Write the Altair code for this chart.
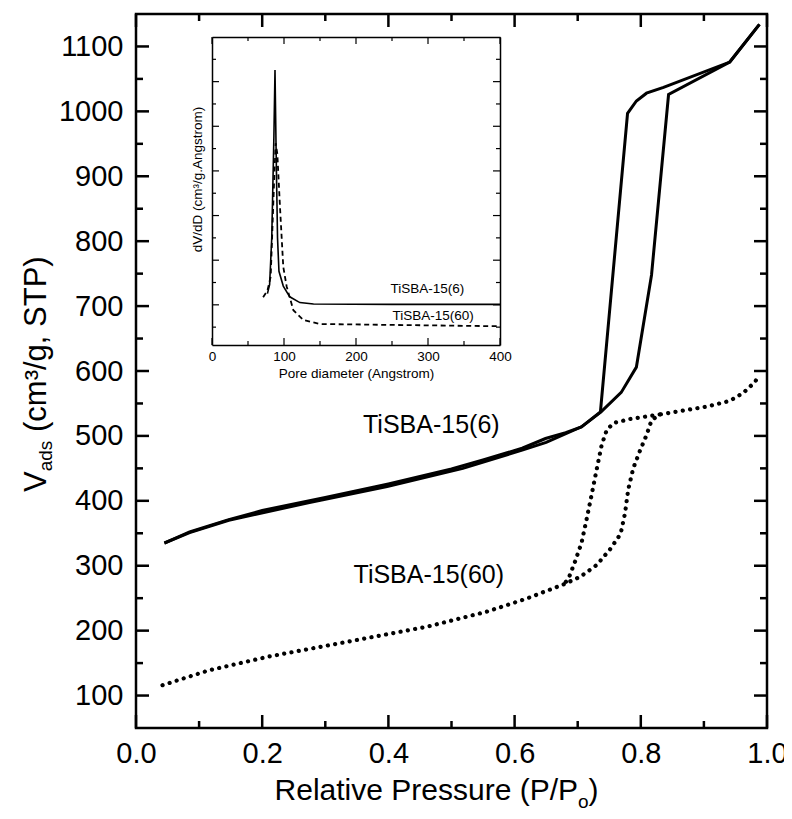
import altair as alt
import pandas as pd

# ---------------- data ----------------
# TiSBA-15(6) isotherm (solid line): adsorption and desorption branches
p6_ads = [0.045, 0.085, 0.147, 0.273, 0.398, 0.518, 0.612, 0.650, 0.706, 0.737, 0.769, 0.793, 0.817, 0.844, 0.941, 0.988]
v6_ads = [335, 351, 370, 397, 422, 450, 478, 490, 514, 537, 567, 606, 748, 1026, 1076, 1134]
p6_des = [0.988, 0.941, 0.836, 0.809, 0.793, 0.779, 0.736, 0.706, 0.681, 0.649, 0.612, 0.550, 0.500, 0.400, 0.300, 0.200, 0.147, 0.085, 0.045]
v6_des = [1134, 1076, 1037, 1028, 1016, 997, 537, 514, 505, 496, 481, 463, 449, 426, 405, 385, 371, 352, 335]

# TiSBA-15(60) isotherm (dotted line)
p60_ads = [0.042, 0.116, 0.210, 0.336, 0.461, 0.555, 0.618, 0.677, 0.704, 0.730, 0.751, 0.768, 0.775, 0.780, 0.788,
           0.799, 0.809, 0.817, 0.830, 0.867, 0.904, 0.941, 0.962, 0.981, 0.988]
v60_ads = [116, 139, 160, 183, 206, 229, 249, 271, 283, 301, 325, 349, 381, 417, 450,
           478, 501, 524, 533, 539, 545, 554, 566, 583, 595]
p60_des = [0.830, 0.783, 0.757, 0.746, 0.738, 0.730, 0.722, 0.714, 0.706, 0.696, 0.685, 0.677]
v60_des = [533, 526, 520, 509, 486, 448, 409, 371, 335, 307, 279, 271]

# inset: pore size distributions (arbitrary units)
d6 = [77, 80, 83, 86, 87.5, 89, 91, 93, 99, 108, 122, 141, 250, 400]
s6 = [1.25, 1.45, 2.5, 4.8, 6.26, 4.5, 2.5, 1.75, 1.42, 1.18, 1.05, 1.02, 1.01, 1.01]
d60 = [71, 77, 81.5, 86, 88.4, 90.7, 94.4, 99, 103.7, 113, 127, 150, 250, 400]
s60 = [1.17, 1.32, 1.63, 3.65, 4.62, 4.39, 3.2, 1.85, 1.41, 0.88, 0.66, 0.57, 0.55, 0.52]

# ticks
x_major_main = [0.0, 0.2, 0.4, 0.6, 0.8, 1.0]
x_minor_main = [0.1, 0.3, 0.5, 0.7, 0.9]
y_major_main = [100, 200, 300, 400, 500, 600, 700, 800, 900, 1000, 1100]
y_minor_main = [150, 250, 350, 450, 550, 650, 750, 850, 950, 1050]
x_major_inset = [0, 100, 200, 300, 400]
x_minor_inset = [50, 150, 250, 350]
y_major_inset = [1, 2, 3, 4, 5, 6]
y_minor_inset = [0.5, 1.5, 2.5, 3.5, 4.5, 5.5, 6.5]

# curve labels
main_label_text = ["TiSBA-15(6)", "TiSBA-15(60)"]
main_label_x = [0.468, 0.464]
main_label_y = [517, 285]
inset_label_text = ["TiSBA-15(6)", "TiSBA-15(60)"]
inset_label_x = [299, 307]
inset_label_y = [1.35, 0.76]

# ---------------- tables ----------------
def branch(p, v, name):
    return pd.DataFrame({"p": p, "v": v, "branch": name, "i": list(range(len(p)))})

df6 = pd.concat([branch(p6_ads, v6_ads, "ads"), branch(p6_des, v6_des, "des")])
df60 = pd.concat([branch(p60_ads, v60_ads, "ads"), branch(p60_des, v60_des, "des")])
dfi6 = pd.DataFrame({"d": d6, "s": s6})
dfi60 = pd.DataFrame({"d": d60, "s": s60})
dflab = pd.DataFrame({"t": main_label_text, "p": main_label_x, "v": main_label_y})
dfilab = pd.DataFrame({"t": inset_label_text, "d": inset_label_x, "s": inset_label_y})
one = pd.DataFrame({"a": [0]})

W, H = 631, 714
FONT = "Liberation Sans, Arial, Helvetica, sans-serif"

xs_main = alt.Scale(domain=[0, 1], nice=False, zero=False)
ys_main = alt.Scale(domain=[50, 1150], nice=False, zero=False)
# inset occupies a sub-rectangle of the plot area (pixel ranges)
IX0, IX1, IY0, IY1 = 76, 364, 331, 23
xs_in = alt.Scale(domain=[0, 400], range=[IX0, IX1], nice=False, zero=False)
ys_in = alt.Scale(domain=[0.1, 7], range=[IY0, IY1], nice=False, zero=False)


# inward tick marks drawn as rules positioned through the scales
def xticks(vals, xs, y0, y1, w):
    return alt.Chart(pd.DataFrame({"tx": vals})).mark_rule(color="black", strokeWidth=w).encode(
        x=alt.X("tx:Q", scale=xs, axis=None), y=alt.value(y0), y2=alt.value(y1))


def yticks(vals, ys, x0, x1, w):
    return alt.Chart(pd.DataFrame({"ty": vals})).mark_rule(color="black", strokeWidth=w).encode(
        y=alt.Y("ty:Q", scale=ys, axis=None), x=alt.value(x0), x2=alt.value(x1))


def frame_axis(orient, offset):
    return alt.Axis(orient=orient, offset=offset, labels=False, title=None, grid=False, ticks=False,
                    domain=True, domainColor="black", domainWidth=1.5)


# ---------------- main plot ----------------
L1 = alt.Chart(df6).mark_line(color="black", strokeWidth=3).encode(
    x=alt.X("p:Q", scale=xs_main,
            axis=alt.Axis(orient="bottom", values=x_major_main, format=".1f", labelFont=FONT, labelFontSize=29,
                          labelColor="black", labelPadding=11, labelFlush=False, labelOverlap=False,
                          ticks=False, tickSize=0, domain=False, grid=False, title=None)),
    y=alt.Y("v:Q", scale=ys_main,
            axis=alt.Axis(orient="left", values=y_major_main, format="d", labelFont=FONT, labelFontSize=29,
                          labelColor="black", labelPadding=13, labelOverlap=False,
                          ticks=False, tickSize=0, domain=False, grid=False, title=None)),
    detail="branch:N", order="i:Q")

L2 = alt.Chart(df60).mark_line(color="black", strokeWidth=4.2, strokeDash=[0.1, 7.3], strokeCap="round").encode(
    x=alt.X("p:Q", scale=xs_main, axis=None),
    y=alt.Y("v:Q", scale=ys_main, axis=None),
    detail="branch:N", order="i:Q")

L3 = alt.Chart(dflab).mark_text(font=FONT, fontSize=25, color="black").encode(
    x=alt.X("p:Q", scale=xs_main, axis=None),
    y=alt.Y("v:Q", scale=ys_main, axis=None),
    text="t:N")

MT, NT, TW = 13, 7, 2.5
main_ticks = [
    xticks(x_major_main, xs_main, H, H - MT, TW), xticks(x_minor_main, xs_main, H, H - NT, TW),
    xticks(x_major_main, xs_main, 0, MT, TW), xticks(x_minor_main, xs_main, 0, NT, TW),
    yticks(y_major_main, ys_main, 0, MT, TW), yticks(y_minor_main, ys_main, 0, NT, TW),
    yticks(y_major_main, ys_main, W, W - MT, TW), yticks(y_minor_main, ys_main, W, W - NT, TW),
]

# ---------------- inset ----------------
L4 = alt.Chart(dfi6).mark_line(color="black", strokeWidth=1.6).encode(
    x=alt.X("d:Q", scale=xs_in,
            axis=alt.Axis(orient="bottom", offset=-(H - IY0), values=x_major_inset, format="d",
                          labelFont=FONT, labelFontSize=13.5, labelColor="black", labelPadding=4,
                          labelFlush=False, labelOverlap=False, ticks=False, tickSize=0, domain=True,
                          domainColor="black", domainWidth=1.5, grid=False,
                          title="Pore diameter (Angstrom)", titleFont=FONT, titleFontSize=13.5,
                          titleFontWeight="normal", titleColor="black", titlePadding=4)),
    y=alt.Y("s:Q", scale=ys_in,
            axis=alt.Axis(orient="left", offset=-IX0, labels=False, ticks=False, tickSize=0, domain=True,
                          domainColor="black", domainWidth=1.5,
                          grid=False, title="dV/dD (cm³/g.Angstrom)", titleFont=FONT, titleFontSize=13.5,
                          titleFontWeight="normal", titleColor="black", titlePadding=8, titleY=165)))

L5 = alt.Chart(dfi60).mark_line(color="black", strokeWidth=1.8, strokeDash=[5, 3.5]).encode(
    x=alt.X("d:Q", scale=xs_in, axis=frame_axis("top", -IY1)),
    y=alt.Y("s:Q", scale=ys_in, axis=frame_axis("left", -IX1)))

L6 = alt.Chart(dfilab).mark_text(font=FONT, fontSize=13.5, color="black").encode(
    x=alt.X("d:Q", scale=xs_in, axis=None),
    y=alt.Y("s:Q", scale=ys_in, axis=None),
    text="t:N")

IM, IN, IW = 7, 4, 1.2
inset_ticks = [
    xticks(x_major_inset, xs_in, IY0, IY0 - IM, IW), xticks(x_minor_inset, xs_in, IY0, IY0 - IN, IW),
    xticks(x_major_inset, xs_in, IY1, IY1 + IM, IW), xticks(x_minor_inset, xs_in, IY1, IY1 + IN, IW),
    yticks(y_major_inset, ys_in, IX0, IX0 + IM, IW), yticks(y_minor_inset, ys_in, IX0, IX0 + IN, IW),
    yticks(y_major_inset, ys_in, IX1, IX1 - IM, IW), yticks(y_minor_inset, ys_in, IX1, IX1 - IN, IW),
]

# ---------------- axis titles with sub/superscripts ----------------
def txt(s, x, y, size, align="left", angle=0):
    m = alt.Chart(one).mark_text(text=s, font=FONT, fontSize=size, color="black", align=align,
                                 baseline="alphabetic", angle=angle)
    return m.encode(x=alt.value(x), y=alt.value(y))

X0 = 442
xt = [txt("Relative Pressure (P/P", X0, 786, 30, "right"),
      txt("o", X0, 794, 19),
      txt(")", X0 + 10.6, 786, 30)]
yt = [txt("V", -90, 478, 31, angle=270),
      txt("ads", -84, 457.3, 19, angle=270),
      txt("(cm³/g, STP)", -90, 418, 31, angle=270)]

chart = alt.layer(L1, L2, L3, *main_ticks, L4, L5, L6, *inset_ticks, *xt, *yt).resolve_scale(
    x="independent", y="independent").resolve_axis(x="independent", y="independent").properties(
    width=W, height=H, padding={"left": 128, "top": 6, "right": 17, "bottom": 83},
    autosize=alt.AutoSizeParams(type="none")).configure_view(stroke="black", strokeWidth=2.5)

chart.save("out.html", embed_options={"renderer": "svg", "actions": False})
